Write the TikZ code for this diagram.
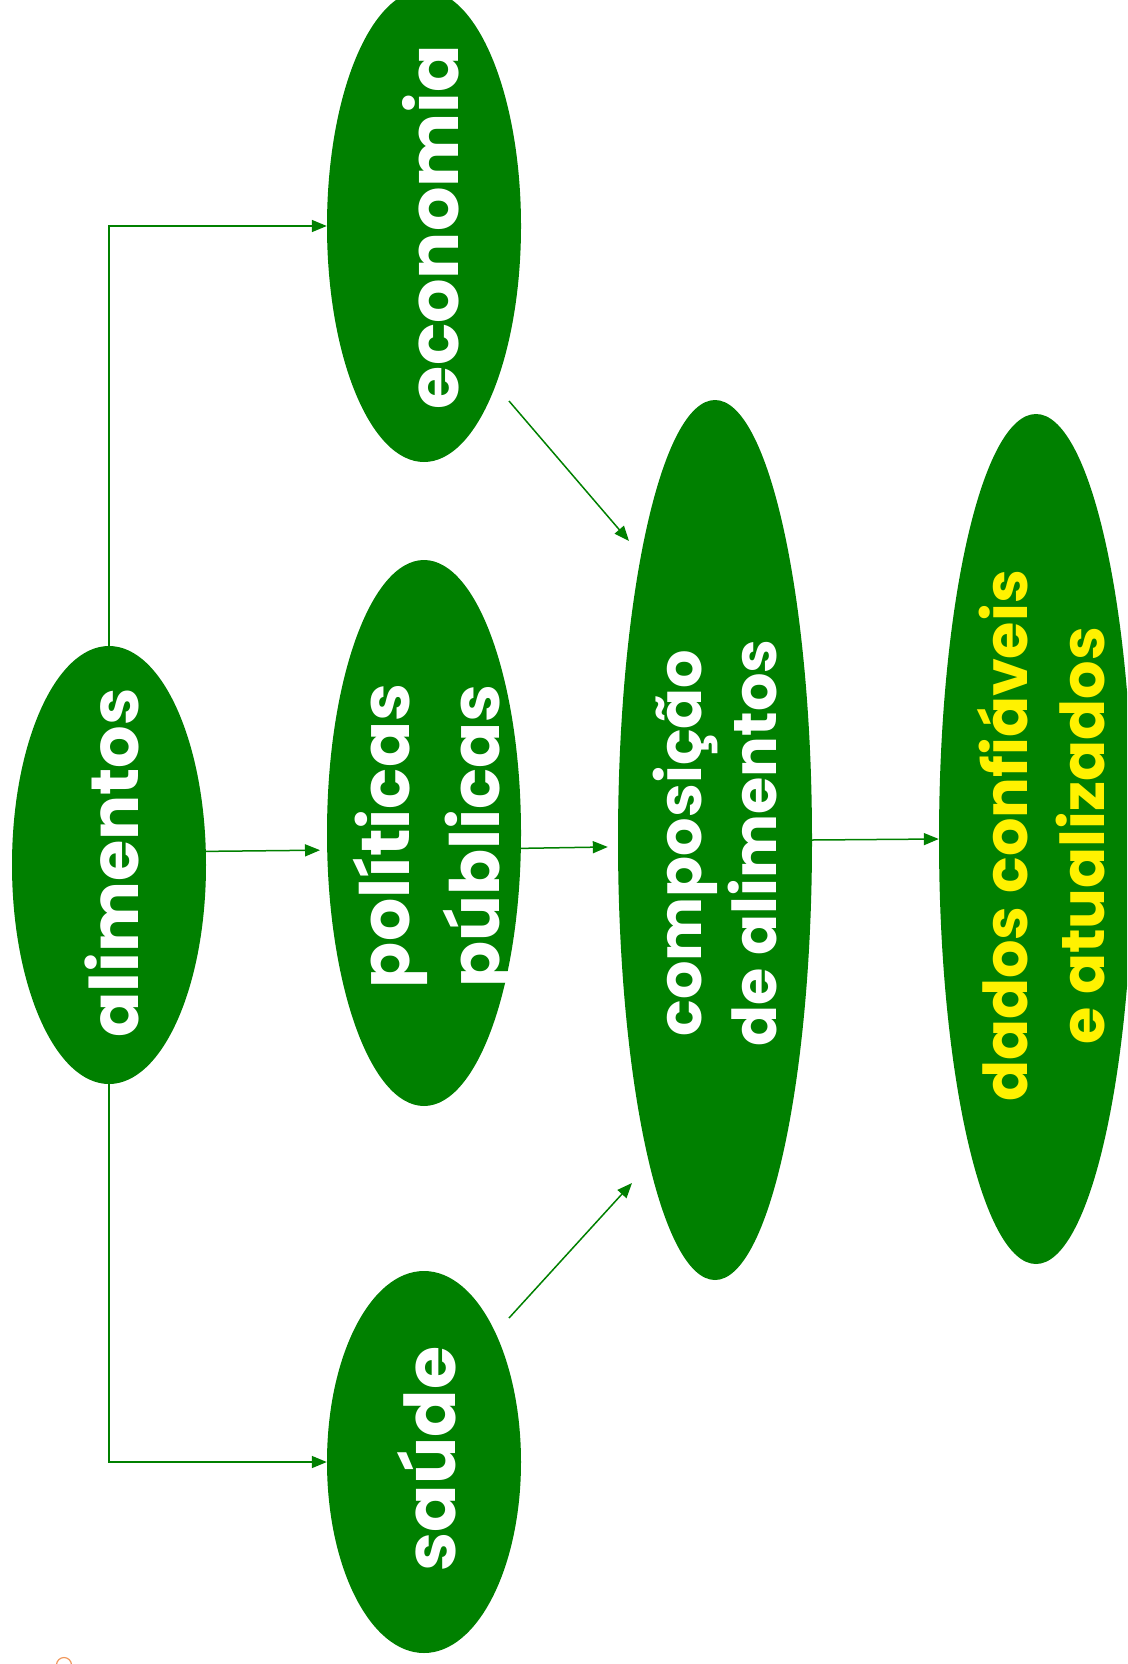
\documentclass[tikz,border=0pt]{standalone}
\usepackage{fontspec}
\setmainfont{Poppins}
\usetikzlibrary{shapes.geometric,arrows.meta,calc}
\definecolor{leaf}{RGB}{0,128,0}
\definecolor{dotorange}{RGB}{240,150,90}
\begin{document}
\begin{tikzpicture}[x=1pt,y=-1pt,
  blob/.style={ellipse,fill=leaf,inner sep=0pt,minimum width=194pt},
  lbl/.style={rotate=90,align=center,text=white,inner sep=0pt},
  fs/.style 2 args={font=\bfseries\fontsize{#1}{#2}\selectfont},
  link/.style={draw=leaf,line width=1.5pt,-{Triangle[length=15pt,width=12pt]}}]
\useasboundingbox (0,0) rectangle (1127,1664);
\clip (0,0) rectangle (1127,1664);

\node[blob,minimum height=438pt] (alim) at (109,865) {};
\node[blob,minimum height=472pt] (econ) at (424,226) {};
\node[blob,minimum height=546pt] (pol) at (424,833) {};
\node[blob,minimum height=382pt] (saude) at (424,1462) {};
\node[blob,minimum height=880pt] (comp) at (715,840) {};
\node[blob,minimum height=850pt] (dados) at (1036,839) {};

\node[lbl,fs={67}{80}] (talim) at (112,863) {alimentos};
\node[lbl,fs={70}{80}] (tecon) at (431,227) {economia};
\node[lbl,fs={68}{90}] (tpol) at (435,836) {políticas\\públicas};
\node[lbl,fs={70}{80}] (tsaude) at (427,1459) {saúde};
\node[lbl,fs={60.5}{75}] (tcomp) at (715,843) {composição\\de alimentos};
\node[lbl,fs={60.5}{77},text=yellow] (tdados) at (1041,836) {dados confiáveis\\e atualizados};

\draw[link] (alim.north) |- (econ.west);
\draw[link] (alim.south) |- (saude.west);
\draw[link,shorten >=7pt] (alim.8) -- (pol.190);
\draw[link,shorten >=10pt] (pol.-9) -- (comp.184);
\draw[link] (comp.east) -- (dados.west);
\draw[link] ($(econ.center)+(85,175)$) -- ($(comp.center)+(-86,-299)$);
\draw[link] ($(saude.center)+(85,-144)$) -- ($(comp.center)+(-83,343)$);

\draw[dotorange,line width=1.2pt] (64,1665) circle[radius=7.5];
\end{tikzpicture}
\end{document}
